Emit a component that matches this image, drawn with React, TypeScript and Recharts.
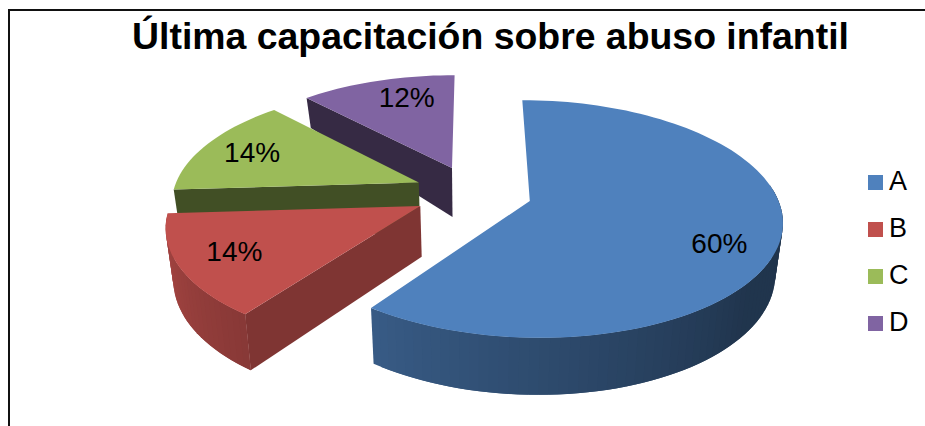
import { PieChart, Pie, Legend } from 'recharts'

// Excel-style exploded 3D pie. Recharts has no 3D pie, so each sector gets a
// custom shape that pushes the sector's own angles through a small perspective.
const categories = ['A', 'B', 'C', 'D']
const values = [60, 14, 14, 12]
const colors = ['#4f81bd', '#c0504d', '#9bbb59', '#8064a2']
// how dark the flat cut face of each slice is
const faceShade = [0.5, 0.66, 0.42, 0.42]
// where each % label sits: fraction of the radius, degrees off the mid angle
const labelFrac = [0.79, 0.78, 0.78, 0.77]
const labelTurn = [8, 1, 0, 5]

// drawn back to front: D, C, B, A going counter-clockwise from 12 o'clock
const rows = categories
  .map((name, i) => ({
    name,
    value: values[i],
    fill: colors[i],
    face: faceShade[i],
    frac: labelFrac[i],
    turn: labelTurn[i],
  }))
  .reverse()

const CX = 473
const CY = 192.5
const R = 246
const HEIGHT = 113.5
const PERSP = 0.15
const EXPLODE = 0.24
const RAD = Math.PI / 180

const project = (u: number, v: number) => {
  const w = 1 - PERSP * v
  return { x: CX + (R * u) / w, y: CY + (HEIGHT * v) / w }
}

// a = recharts angle (ccw from 3 o'clock), mid = the slice's mid angle
const topPoint = (a: number, mid: number, r = 1) => {
  const u = EXPLODE * Math.cos(mid * RAD) + r * Math.cos(a * RAD)
  const v = -EXPLODE * Math.sin(mid * RAD) - r * Math.sin(a * RAD)
  return project(u, v)
}

const depthAt = (y: number) => {
  if (y <= 166) return 30 + (19 * (y - 98)) / 68
  return Math.min(57, 49 + (8 * (y - 166)) / 171)
}

const drop = (p: { x: number; y: number }) => ({
  x: CX + (p.x - CX) * 0.975,
  y: p.y + depthAt(p.y),
})

const pts = (list: { x: number; y: number }[]) =>
  list.map(p => `${p.x.toFixed(1)},${p.y.toFixed(1)}`).join(' ')

const shade = (hex: string, m: number) => {
  const n = parseInt(hex.slice(1), 16)
  const c = [(n >> 16) & 255, (n >> 8) & 255, n & 255].map(x => Math.round(x * m))
  return `rgb(${c[0]},${c[1]},${c[2]})`
}

const clockwise = (a: number) => ((90 - a) % 360 + 360) % 360

// light comes from the left, so the rim darkens towards the right
const rimShade = (a: number) =>
  0.41 + 0.47 * Math.max(0, Math.min(1, (clockwise(a) - 130) / 136))

// a cut face only shows when its outward normal points at the viewer
const faceShows = (normalCw: number) => -Math.cos(normalCw * RAD) > 0.05

function Slice3D(props: any) {
  const { startAngle, endAngle, midAngle, fill, face } = props
  const apex = topPoint(0, midAngle, 0)
  const arc: { x: number; y: number; a: number }[] = []
  const steps = Math.ceil(Math.abs(endAngle - startAngle) / 2)
  for (let i = 0; i <= steps; i++) {
    const a = startAngle + ((endAngle - startAngle) * i) / steps
    arc.push({ ...topPoint(a, midAngle), a })
  }
  const first = arc[0]
  const last = arc[arc.length - 1]
  // startAngle is the clockwise-most edge because the pie runs counter-clockwise
  const hiCw = 90 - startAngle
  const loCw = 90 - endAngle
  return (
    <g>
      {faceShows(hiCw + 90) && (
        <polygon points={pts([apex, first, drop(first), drop(apex)])} fill={shade(fill, face)} />
      )}
      {faceShows(loCw - 90) && (
        <polygon points={pts([apex, last, drop(last), drop(apex)])} fill={shade(fill, face)} />
      )}
      {arc.slice(0, -1).map((p, i) => {
        const mid = (p.a + arc[i + 1].a) / 2
        const cw = clockwise(mid)
        if (cw < 85 || cw > 266.4) return null
        // runs one step past its end so neighbours overlap and leave no seams
        const next = arc[Math.min(i + 2, arc.length - 1)]
        return (
          <polygon
            key={i}
            points={pts([p, next, drop(next), drop(p)])}
            fill={shade(fill, rimShade(mid))}
          />
        )
      })}
      <polygon points={pts([apex, ...arc])} fill={fill} />
    </g>
  )
}

const renderLabel = (props: any) => {
  const row = props.payload ?? props
  const p = topPoint(props.midAngle - (row.turn ?? 0), props.midAngle, row.frac ?? 0.8)
  return (
    <text x={p.x} y={p.y} textAnchor="middle" dominantBaseline="central" fontSize={28} fill="#000">
      {props.value}%
    </text>
  )
}

const FONT = '"Liberation Sans", Arial, sans-serif'

export default function App() {
  return (
    <div style={{ position: 'absolute', left: 0, top: 0, width: 925, height: 426, overflow: 'hidden', background: '#fff', fontFamily: FONT }}>
      <div style={{ position: 'absolute', left: 8, top: 9, width: 930, height: 430, borderLeft: '2px solid #111', borderTop: '2px solid #111' }} />
      <div style={{ position: 'absolute', left: 0, width: 981, top: 14, textAlign: 'center', fontSize: 37.4, fontWeight: 700, lineHeight: '44px', color: '#000' }}>
        Última capacitación sobre abuso infantil
      </div>
      <PieChart width={925} height={426} style={{ position: 'absolute', left: 0, top: 0 }}>
        <Pie
          data={rows}
          dataKey="value"
          nameKey="name"
          cx={CX}
          cy={CY}
          outerRadius={R}
          startAngle={90}
          endAngle={450}
          stroke="none"
          shape={Slice3D}
          inactiveShape={Slice3D}
          label={renderLabel}
          labelLine={false}
          isAnimationActive={false}
        />
        <Legend
          layout="vertical"
          align="right"
          verticalAlign="top"
          iconType="square"
          iconSize={15}
          wrapperStyle={{ position: 'absolute', left: 868, top: 155, width: 50, right: 'auto' }}
          formatter={(v: string) => (
            <span style={{ color: '#000', fontSize: 27, lineHeight: '47px', marginLeft: 2, position: 'relative', top: 3 }}>{v}</span>
          )}
        />
      </PieChart>
    </div>
  )
}
